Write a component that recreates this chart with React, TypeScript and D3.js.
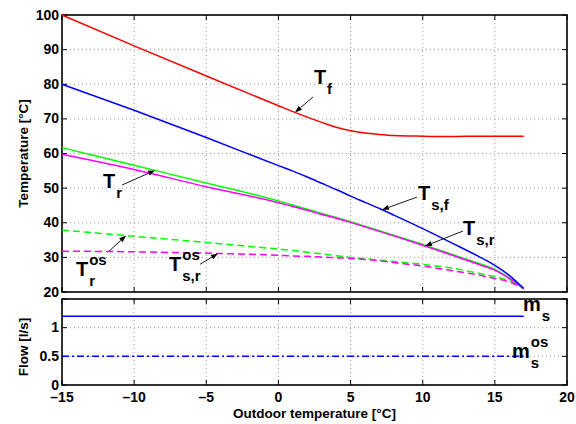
import * as d3 from "d3";

// outdoor temperature samples (°C)
const outdoor = [-15, -10, -5, 0, 1, 2, 3, 4, 5, 6, 7, 8, 10, 12, 14, 15, 16, 17];
const tF = [100, 91.1, 82.4, 73.8, 72.1, 70.5, 69.0, 67.6, 66.6, 65.9, 65.5, 65.2, 65.0, 64.9, 65.0, 65.0, 65.0, 65.0];
const tSF = [80, 72.5, 64.6, 56.5, 54.9, 53.2, 51.4, 49.6, 47.7, 45.9, 44.1, 42.2, 38.3, 34.2, 30.0, 27.7, 24.8, 21.0];
const tR = [61.7, 56.6, 51.5, 46.3, 45.1, 43.9, 42.7, 41.5, 40.3, 39.0, 37.7, 36.4, 33.7, 30.9, 28.1, 26.5, 24.1, 21.0];
const tSR = [59.8, 55.4, 50.4, 45.8, 44.7, 43.6, 42.4, 41.3, 40.1, 38.8, 37.5, 36.2, 33.5, 30.7, 27.8, 26.3, 23.9, 21.0];
const tROs = [37.9, 36.1, 34.3, 32.4, 32.0, 31.5, 31.0, 30.5, 30.0, 29.6, 29.2, 28.8, 28.0, 26.9, 25.3, 24.4, 23.3, 21.0];
const tSROs = [31.8, 31.6, 31.2, 30.6, 30.4, 30.3, 30.1, 29.9, 29.7, 29.4, 29.0, 28.5, 27.5, 26.2, 24.8, 23.9, 22.9, 21.0];

const flowX = [-15, 17];
const mS = [1.2, 1.2];
const mSOs = [0.5, 0.5];

const xTicks = [-15, -10, -5, 0, 5, 10, 15, 20];
const xTickLabels = ["–15", "–10", "–5", "0", "5", "10", "15", "20"];
const tempTicks = [20, 30, 40, 50, 60, 70, 80, 90, 100];
const flowTicks = [0, 0.5, 1, 1.5];
const flowTickLabels = ["0", "0.5", "1", ""];

const FONT = "'Liberation Sans', Arial, Helvetica, sans-serif";

const x = d3.scaleLinear().domain([-15, 20]).range([62, 567]);
const yT = d3.scaleLinear().domain([20, 100]).range([292, 15]);
const yF = d3.scaleLinear().domain([0, 1.5]).range([385, 299]);

const tempSeries = [
  { values: tR, color: "#00ff00", dash: null },
  { values: tSR, color: "#ff00ff", dash: null },
  { values: tROs, color: "#00ff00", dash: "7,4" },
  { values: tSROs, color: "#ff00ff", dash: "7,4" },
  { values: tSF, color: "#0000ff", dash: null },
  { values: tF, color: "#ff0000", dash: null },
];

// annotation text anchors and arrows, in data coordinates
const tempNotes = [
  { base: "T", sub: "f", sup: "", tx: 2.46, ty: 80.1, ax: 2.39, ay: 76.3, tip: 1.15, values: tF },
  { base: "T", sub: "s,f", sup: "", tx: 9.67, ty: 46.5, ax: 9.6, ay: 47.4, tip: 7.18, values: tSF },
  { base: "T", sub: "s,r", sup: "", tx: 12.79, ty: 36.4, ax: 12.79, ay: 37.6, tip: 10.16, values: tSR },
  { base: "T", sub: "r", sup: "", tx: -12.16, ty: 50.0, ax: -10.84, ay: 50.9, tip: -8.55, values: tR },
  { base: "T", sub: "r", sup: "os", tx: -14.03, ty: 24.6, ax: -11.74, ay: 31.8, tip: -10.56, values: tROs },
  { base: "T", sub: "s,r", sup: "os", tx: -7.58, ty: 26.0, ax: -5.44, ay: 28.0, tip: -4.19, values: tSROs },
];
const flowNotes = [
  { base: "m", sub: "s", sup: "", tx: 16.95, ty: 1.29 },
  { base: "m", sub: "s", sup: "os", tx: 16.19, ty: 0.47 },
];

function Label({ px, py, base, sub, sup }: { px: number; py: number; base: string; sub: string; sup: string }) {
  const w = base === "m" ? 17.8 : 12.2;
  return (
    <g fontFamily={FONT} fontWeight="bold" fill="#000">
      <text x={px} y={py} fontSize={20}>{base}</text>
      {sup && <text x={px + w + 1} y={py - 11} fontSize={15}>{sup}</text>}
      {sub && <text x={px + w + 1} y={py + 10} fontSize={15}>{sub}</text>}
    </g>
  );
}

function Arrow({ x1, y1, x2, y2 }: { x1: number; y1: number; x2: number; y2: number }) {
  const ang = Math.atan2(y2 - y1, x2 - x1);
  const L = 7, W = 2.6;
  const bx = x2 - L * Math.cos(ang), by = y2 - L * Math.sin(ang);
  const nx = -Math.sin(ang) * W, ny = Math.cos(ang) * W;
  return (
    <g>
      <line x1={x1} y1={y1} x2={bx} y2={by} stroke="#000" strokeWidth={0.9} />
      <path d={`M${x2},${y2}L${bx + nx},${by + ny}L${bx - nx},${by - ny}Z`} fill="#000" />
    </g>
  );
}

function Frame({ y, ticks, labels, showX }: { y: d3.ScaleLinear<number, number>; ticks: number[]; labels: string[]; showX: boolean }) {
  const [y0, y1] = y.range();
  const [x0, x1] = x.range();
  return (
    <g>
      {xTicks.slice(1, -1).map((t) => (
        <line key={"gx" + t} x1={x(t)} x2={x(t)} y1={y0} y2={y1} stroke="#808080" strokeWidth={0.8} strokeDasharray="1,3" />
      ))}
      {ticks.filter((t) => y(t) < y0 - 1 && y(t) > y1 + 1).map((t) => (
        <line key={"gy" + t} x1={x0} x2={x1} y1={y(t)} y2={y(t)} stroke="#808080" strokeWidth={0.8} strokeDasharray="1,3" />
      ))}
      {xTicks.map((t) => (
        <g key={"tx" + t}>
          <line x1={x(t)} x2={x(t)} y1={y0} y2={y0 - 5} stroke="#000" strokeWidth={1} />
          <line x1={x(t)} x2={x(t)} y1={y1} y2={y1 + 5} stroke="#000" strokeWidth={1} />
        </g>
      ))}
      {ticks.map((t, i) => (
        <g key={"ty" + t}>
          <line x1={x0} x2={x0 + 5} y1={y(t)} y2={y(t)} stroke="#000" strokeWidth={1} />
          <line x1={x1} x2={x1 - 5} y1={y(t)} y2={y(t)} stroke="#000" strokeWidth={1} />
          <text x={x0 - 3} y={y(t) + 4.5} textAnchor="end" fontFamily={FONT} fontWeight="bold" fontSize={14}>
            {labels[i]}
          </text>
        </g>
      ))}
      {showX &&
        xTicks.map((t, i) => (
          <text key={"lx" + t} x={x(t)} y={402} textAnchor="middle" fontFamily={FONT} fontWeight="bold" fontSize={14}>
            {xTickLabels[i]}
          </text>
        ))}
      <rect x={x0} y={y1} width={x1 - x0} height={y0 - y1} fill="none" stroke="#000" strokeWidth={1.6} />
    </g>
  );
}

export default function App() {
  const line = d3
    .line<number>()
    .x((_, i) => x(outdoor[i]))
    .y((d) => yT(d))
    .curve(d3.curveMonotoneX);
  const flowLine = d3
    .line<number>()
    .x((_, i) => x(flowX[i]))
    .y((d) => yF(d));

  return (
    <svg width={576} height={424} style={{ position: "absolute", left: 0, top: 0, background: "#fff" }}>
      <rect width={576} height={424} fill="#fff" />
      <Frame y={yT} ticks={tempTicks} labels={tempTicks.map(String)} showX={false} />
      <Frame y={yF} ticks={flowTicks} labels={flowTickLabels} showX={true} />

      {tempSeries.map((s, i) => (
        <path key={i} d={line(s.values) || ""} fill="none" stroke={s.color} strokeWidth={1.5} strokeDasharray={s.dash || undefined} />
      ))}
      <path d={flowLine(mS) || ""} fill="none" stroke="#0000ff" strokeWidth={1.5} />
      <path d={flowLine(mSOs) || ""} fill="none" stroke="#0000ff" strokeWidth={1.5} strokeDasharray="7,3,2,3" />

      {tempNotes.map((n, i) => {
        const interp = d3.scaleLinear().domain(outdoor).range(n.values);
        return (
          <g key={"n" + i}>
            <Arrow x1={x(n.ax)} y1={yT(n.ay)} x2={x(n.tip)} y2={yT(interp(n.tip))} />
            <Label px={x(n.tx)} py={yT(n.ty)} base={n.base} sub={n.sub} sup={n.sup} />
          </g>
        );
      })}
      {flowNotes.map((n, i) => (
        <Label key={"f" + i} px={x(n.tx)} py={yF(n.ty)} base={n.base} sub={n.sub} sup={n.sup} />
      ))}

      <text transform={`translate(28,${(yT(20) + yT(100)) / 2}) rotate(-90)`} textAnchor="middle" fontFamily={FONT} fontWeight="bold" fontSize={13.5}>
        Temperature [°C]
      </text>
      <text transform={`translate(28,347) rotate(-90)`} textAnchor="middle" fontFamily={FONT} fontWeight="bold" fontSize={13.5}>
        Flow [l/s]
      </text>
      <text x={(x(-15) + x(20)) / 2} y={418} textAnchor="middle" fontFamily={FONT} fontWeight="bold" fontSize={13.5}>
        Outdoor temperature [°C]
      </text>
    </svg>
  );
}
